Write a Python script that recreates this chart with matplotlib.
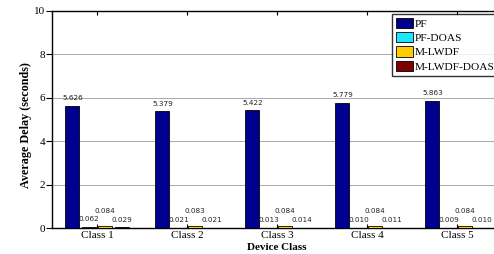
import numpy as np
import matplotlib
matplotlib.use('Agg')
import matplotlib.pyplot as plt

plt.rcParams['font.family'] = ['Liberation Serif', 'DejaVu Serif']

classes = ['Class 1', 'Class 2', 'Class 3', 'Class 4', 'Class 5']
pf = [5.626, 5.379, 5.422, 5.779, 5.863]
pf_doas = [0.062, 0.021, 0.013, 0.010, 0.009]
mlwdf = [0.084, 0.083, 0.084, 0.084, 0.084]
mlwdf_doas = [0.029, 0.021, 0.014, 0.011, 0.010]

series = [pf, pf_doas, mlwdf, mlwdf_doas]
names = ['PF', 'PF-DOAS', 'M-LWDF', 'M-LWDF-DOAS']
colors = ['#00008F', '#1EE6FA', '#FFCC00', '#800000']
label_lift = [0.35, 0.35, 0.72, 0.35]

fig = plt.figure(figsize=(4.94, 2.54), dpi=100)
ax = fig.add_axes([52/494, 1-228/254, 450/494, 217/254])

x = np.arange(1, len(classes)+1)
step = 0.182
width = 0.155
for i, (vals, name, c) in enumerate(zip(series, names, colors)):
    pos = x + (i-1.5)*step
    ax.bar(pos, vals, width, color=c, edgecolor='black', linewidth=0.6, label=name, zorder=3)
    for p, v in zip(pos, vals):
        ax.text(p, v + label_lift[i], '%.3f' % v, ha='center', va='center',
                fontsize=5.2, family='DejaVu Sans', color='#222222', zorder=4)

ax.set_xlim(0.5, 5.5)
ax.set_ylim(0, 10)
ax.set_xticks(x)
ax.set_xticklabels(classes, fontsize=8)
ax.set_yticks(range(0, 11, 2))
ax.tick_params(axis='y', labelsize=8, direction='out', length=4, pad=1)
ax.tick_params(axis='x', direction='in', length=3, top=True, pad=2)
ax.yaxis.grid(True, color='#a8a8a8', linewidth=0.7, zorder=0)
ax.set_axisbelow(True)
for s in ax.spines.values():
    s.set_linewidth(1.0)

ax.set_xlabel('Device Class', fontsize=8, fontweight='bold', labelpad=2)
ax.set_ylabel('Average Delay (seconds)', fontsize=8.7, fontweight='bold')
ax.yaxis.set_label_coords(-20/450, (228-125)/217)

leg = ax.legend(loc='upper left', bbox_to_anchor=((392-52)/450, (228-14)/217), fontsize=8.2,
                frameon=True, fancybox=False, edgecolor='black', handlelength=1.5,
                handleheight=1.0, handletextpad=0.18, labelspacing=0.3,
                borderpad=0.32, borderaxespad=0.0)
leg.get_frame().set_linewidth(1.0)

fig.savefig('out.png', dpi=100)
